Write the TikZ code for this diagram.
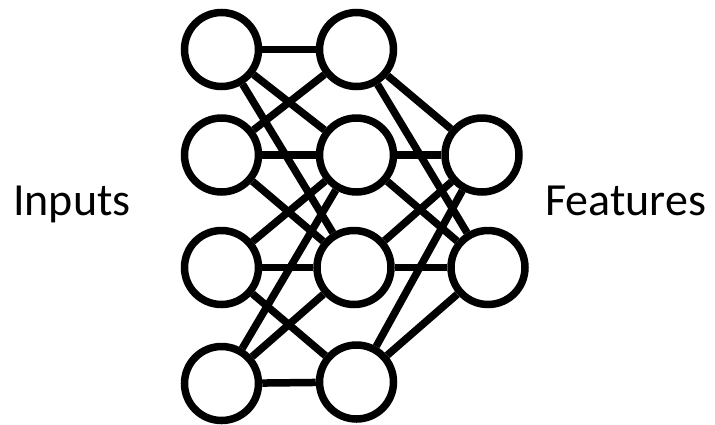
\documentclass[tikz,border=0pt]{standalone}
\usepackage{fontspec}
\setmainfont{Carlito}
\begin{document}
\begin{tikzpicture}[x=1pt,y=-1pt,
  neuron/.style={circle,draw,line width=7.5pt,minimum size=74pt,inner sep=0pt,fill=white},
  edge/.style={line width=7.5pt},
  lbl/.style={font=\fontsize{46}{50}\selectfont,anchor=base west,inner sep=0pt}]
\useasboundingbox (0,0) rectangle (715,424);
\node[neuron] (a1) at (221.5,49.5) {};
\node[neuron] (a2) at (221.5,155) {};
\node[neuron] (a3) at (221.5,267.5) {};
\node[neuron] (a4) at (221.5,383.5) {};
\node[neuron] (b1) at (356.5,49.5) {};
\node[neuron] (b2) at (356.5,155) {};
\node[neuron] (b3) at (354,267.5) {};
\node[neuron] (b4) at (356.5,382) {};
\node[neuron] (c1) at (482,155) {};
\node[neuron] (c2) at (488,267.5) {};
\draw[edge] (a1) -- (b1);
\draw[edge] (a1) -- (b2);
\draw[edge] (a1) -- (b3);
\draw[edge] (a2) -- (b1);
\draw[edge] (a2) -- (b2);
\draw[edge] (a2) -- (b3);
\draw[edge] (a3) -- (b2);
\draw[edge] (a3) -- (b3);
\draw[edge] (a3) -- (b4);
\draw[edge] (a4) -- (b2);
\draw[edge] (a4) -- (b3);
\draw[edge] (a4) -- (b4);
\draw[edge] (b1) -- (c1);
\draw[edge] (b1) -- (c2);
\draw[edge] (b2) -- (c1);
\draw[edge] (b2) -- (c2);
\draw[edge] (b3) -- (c1);
\draw[edge] (b3) -- (c2);
\draw[edge] (b4) -- (c1);
\draw[edge] (b4) -- (c2);
\node[lbl] (inp) at (13,215) {Inputs};
\node[lbl] (feat) at (545,215) {Features};
\end{tikzpicture}
\end{document}
